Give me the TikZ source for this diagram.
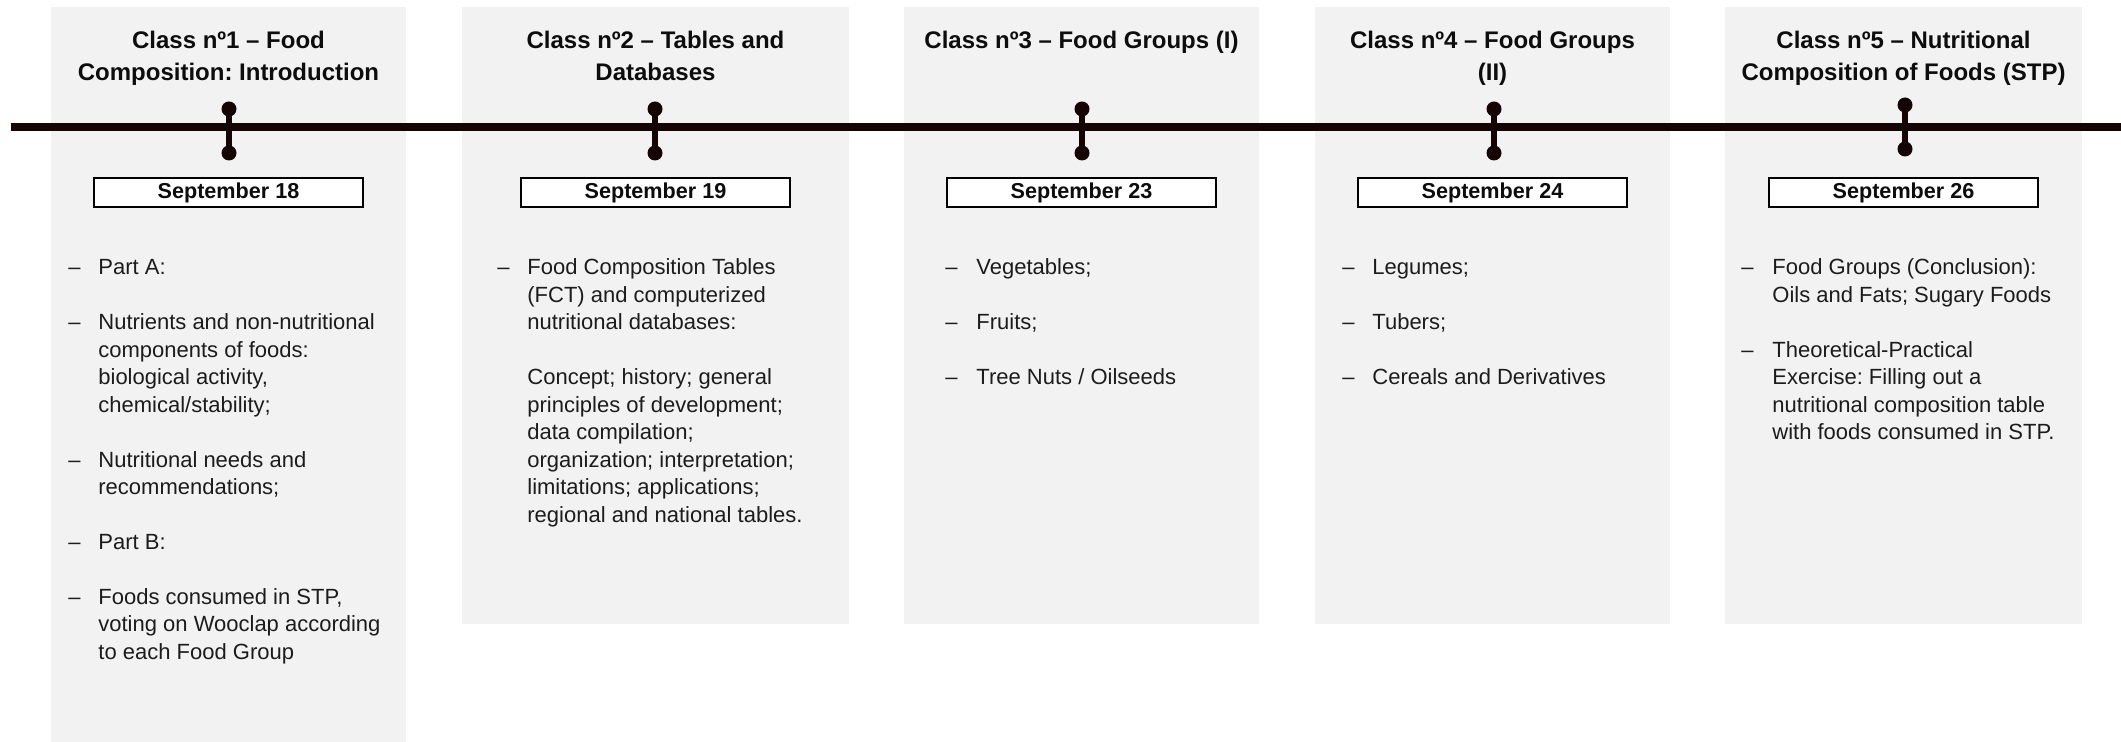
\documentclass[tikz,border=0pt]{standalone}
\usepackage{fontspec}
\setmainfont{Liberation Sans}
\frenchspacing
\definecolor{panelgray}{RGB}{242,242,242}
\definecolor{lineC}{RGB}{20,4,4}
\definecolor{titleC}{RGB}{13,13,13}
\definecolor{bodyC}{RGB}{28,28,28}
\newcommand\bl[4]{\node[body] (#1) at (#2,{275+27.45*#3}) {#4};}
\begin{document}
\begin{tikzpicture}[x=0.5pt,y=-0.5pt,
  panel/.style={fill=panelgray,draw=none},
  title/.style={font=\fontsize{12}{16}\selectfont\bfseries,text=titleC,anchor=base,inner sep=0},
  body/.style={font=\fontsize{11}{13.75}\selectfont,text=bodyC,anchor=base west,inner sep=0},
  datebox/.style={draw=black,line width=0.7pt,fill=white,minimum width=134.5pt,minimum height=14.5pt,inner sep=0,text=titleC,font=\fontsize{10.8}{12}\selectfont\bfseries},
  dot/.style={circle,fill=lineC,inner sep=0,minimum size=7.5pt},
  stem/.style={draw=lineC,line width=2.8pt},
  tline/.style={draw=lineC,line width=3.75pt}]
\useasboundingbox (0,0) rectangle (2121,742);
% panels
\fill[panel] (51,7) rectangle (406,742);
\fill[panel] (462,7) rectangle (849,624);
\fill[panel] (904,7) rectangle (1259,624);
\fill[panel] (1315,7) rectangle (1670,624);
\fill[panel] (1725,7) rectangle (2082,624);
% timeline
\coordinate (tlL) at (11,127);
\coordinate (tlR) at (2121,127);
\draw[tline] (tlL) -- (tlR);
% stems and dots
\node[dot] (t1) at (229,109) {}; \node[dot] (b1) at (229,153) {};
\node[dot] (t2) at (655,109) {}; \node[dot] (b2) at (655,153) {};
\node[dot] (t3) at (1082,109) {}; \node[dot] (b3) at (1082,153) {};
\node[dot] (t4) at (1494,109) {}; \node[dot] (b4) at (1494,153) {};
\node[dot] (t5) at (1905,105) {}; \node[dot] (b5) at (1905,149) {};
\foreach \i in {1,...,5} {\draw[stem] (t\i.center) -- (b\i.center);}
% titles
\node[title] (h1a) at (228.5,49) {Class nº1 – Food};
\node[title] (h1b) at (228.5,81) {Composition: Introduction};
\node[title] (h2a) at (655.5,49) {Class nº2 – Tables and};
\node[title] (h2b) at (655.5,81) {Databases};
\node[title] (h3a) at (1081.5,49) {Class nº3 – Food Groups (I)};
\node[title] (h4a) at (1492.5,49) {Class nº4 – Food Groups};
\node[title] (h4b) at (1492.5,81) {(II)};
\node[title] (h5a) at (1903.5,49) {Class nº5 – Nutritional};
\node[title] (h5b) at (1903.5,81) {Composition of Foods (STP)};
% dates
\node[datebox] (d1) at (228.5,192.5) {September 18};
\node[datebox] (d2) at (655.5,192.5) {September 19};
\node[datebox] (d3) at (1081.5,192.5) {September 23};
\node[datebox] (d4) at (1492.5,192.5) {September 24};
\node[datebox] (d5) at (1903.5,192.5) {September 26};
% panel 1 body
\bl{p1m0}{68}{0}{–} \bl{p1a}{98}{0}{Part A:}
\bl{p1m1}{68}{2}{–} \bl{p1b1}{98}{2}{Nutrients and non-nutritional}
\bl{p1b2}{98}{3}{components of foods:}
\bl{p1b3}{98}{4}{biological activity,}
\bl{p1b4}{98}{5}{chemical/stability;}
\bl{p1m2}{68}{7}{–} \bl{p1c1}{98}{7}{Nutritional needs and}
\bl{p1c2}{98}{8}{recommendations;}
\bl{p1m3}{68}{10}{–} \bl{p1d}{98}{10}{Part B:}
\bl{p1m4}{68}{12}{–} \bl{p1e1}{98}{12}{Foods consumed in STP,}
\bl{p1e2}{98}{13}{voting on Wooclap according}
\bl{p1e3}{98}{14}{to each Food Group}
% panel 2 body
\bl{p2m0}{497}{0}{–} \bl{p2a1}{527}{0}{Food Composition Tables}
\bl{p2a2}{527}{1}{(FCT) and computerized}
\bl{p2a3}{527}{2}{nutritional databases:}
\bl{p2b1}{527}{4}{Concept; history; general}
\bl{p2b2}{527}{5}{principles of development;}
\bl{p2b3}{527}{6}{data compilation;}
\bl{p2b4}{527}{7}{organization; interpretation;}
\bl{p2b5}{527}{8}{limitations; applications;}
\bl{p2b6}{527}{9}{regional and national tables.}
% panel 3 body
\bl{p3m0}{945}{0}{–} \bl{p3a}{976}{0}{Vegetables;}
\bl{p3m1}{945}{2}{–} \bl{p3b}{976}{2}{Fruits;}
\bl{p3m2}{945}{4}{–} \bl{p3c}{976}{4}{Tree Nuts / Oilseeds}
% panel 4 body
\bl{p4m0}{1342}{0}{–} \bl{p4a}{1372}{0}{Legumes;}
\bl{p4m1}{1342}{2}{–} \bl{p4b}{1372}{2}{Tubers;}
\bl{p4m2}{1342}{4}{–} \bl{p4c}{1372}{4}{Cereals and Derivatives}
% panel 5 body
\bl{p5m0}{1741}{0}{–} \bl{p5a1}{1772}{0}{Food Groups (Conclusion):}
\bl{p5a2}{1772}{1}{Oils and Fats; Sugary Foods}
\bl{p5m1}{1741}{3}{–} \bl{p5b1}{1772}{3}{Theoretical-Practical}
\bl{p5b2}{1772}{4}{Exercise: Filling out a}
\bl{p5b3}{1772}{5}{nutritional composition table}
\bl{p5b4}{1772}{6}{with foods consumed in STP.}
\end{tikzpicture}
\end{document}
